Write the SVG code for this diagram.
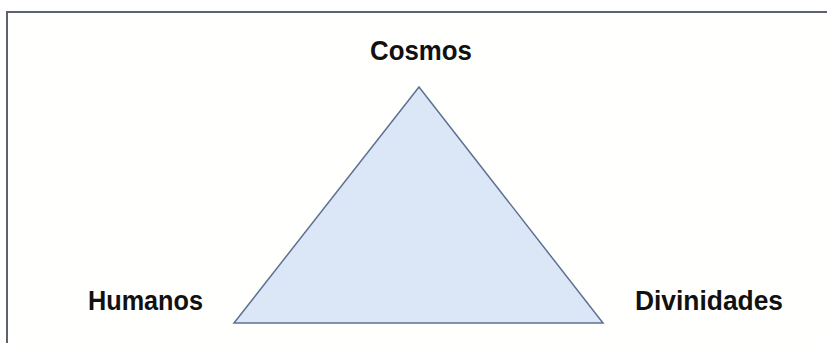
<svg xmlns="http://www.w3.org/2000/svg" width="827" height="343" viewBox="0 0 827 343">
<style>
.lbl{font-family:"Liberation Sans",Arial,sans-serif;font-weight:bold;font-size:28px;fill:#111}
</style>
<rect x="0" y="0" width="827" height="343" fill="#ffffff"/>
<rect id="frame" x="7" y="12" width="830" height="340" fill="#fffffd" stroke="#5d6270" stroke-width="2"/>
<g id="triangle">
<polygon points="419,87 234,323 603,323" fill="#dbe7f7" stroke="#5e7191" stroke-width="1.5"/>
</g>
<g id="cosmos"><text class="lbl" x="370" y="60" textLength="102" lengthAdjust="spacingAndGlyphs">Cosmos</text></g>
<g id="humanos"><text class="lbl" x="88" y="310" textLength="115" lengthAdjust="spacingAndGlyphs">Humanos</text></g>
<g id="divinidades"><text class="lbl" x="635" y="310" textLength="148" lengthAdjust="spacingAndGlyphs">Divinidades</text></g>
</svg>
